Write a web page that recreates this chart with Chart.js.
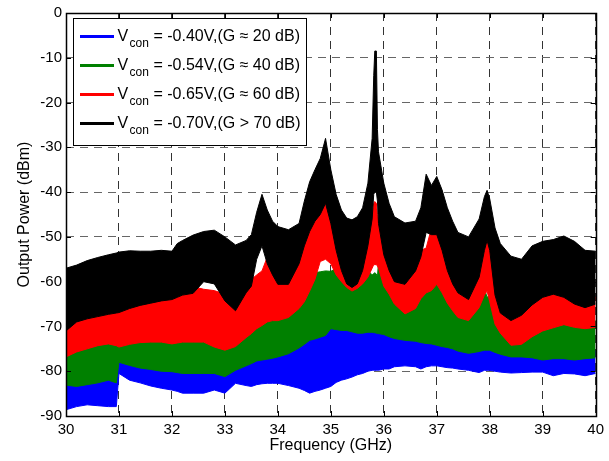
<!DOCTYPE html>
<html lang="en">
<head>
    <meta charset="UTF-8">
    <title>Output Power vs Frequency</title>
    <script src="https://cdn.jsdelivr.net/npm/chart.js"></script>
    <style>
        body {
            margin: 0;
            background: #fff;
        }
        #chart {
            display: block;
        }
    </style>
</head>
<body>
    <canvas id="chart" width="609" height="461"></canvas>

    <script>
        // frequency grid (GHz) the envelopes were read at
        const freqGHz = [
            30.0, 30.2, 30.4, 30.6, 30.8, 30.95, 31.0, 31.2, 31.4, 31.6,
            31.8, 32.0, 32.1, 32.2, 32.4, 32.6, 32.8, 33.0, 33.2, 33.4,
            33.5, 33.6, 33.7, 33.8, 33.9, 34.0, 34.2, 34.4, 34.5, 34.6,
            34.7, 34.8, 34.9, 35.0, 35.1, 35.2, 35.3, 35.4, 35.5, 35.6,
            35.7, 35.78, 35.81, 35.83, 35.86, 35.88, 35.9, 36.0, 36.1, 36.2,
            36.4, 36.6, 36.7, 36.8, 36.9, 37.0, 37.1, 37.2, 37.3, 37.4,
            37.6, 37.8, 37.9, 37.95, 38.0, 38.1, 38.2, 38.4, 38.6, 38.8,
            39.0, 39.2, 39.4, 39.6, 39.8, 40.0
        ];

        // Vcon = -0.70 V (black), upper / lower edge of the noisy trace (dBm)
        const blackTop = [
            -57, -56.3, -55.3, -54.6, -54, -53.6, -53.4, -53.1, -53.2, -53.2,
            -53, -53.2, -51.5, -50.8, -49.6, -48.8, -48.5, -50, -51.8, -50.8,
            -49.5, -44.5, -40.5, -44, -46.5, -47.7, -48.4, -47, -42, -37.7,
            -35, -32.5, -28, -35, -40.5, -44, -45.8, -46.2, -45.5, -43.5,
            -38, -28, -14, -8.5, -8.5, -26, -31, -38, -42.5, -45.5,
            -46.9, -46.5, -43.5, -36, -38.5, -36.5, -39.5, -43.5, -46.5, -49,
            -50, -46, -41, -39.6, -41.5, -48, -51.5, -54.3, -55, -52,
            -51, -50.6, -49.8, -51, -53, -53.2
        ];
        const blackBottom = [
            -71, -69, -68.3, -67.8, -67.3, -67, -66.9, -66, -65.3, -64.8,
            -64.3, -64, -63.5, -63, -62.6, -60, -60.5, -64.3, -66.5, -62.5,
            -61, -55, -52, -56, -58.5, -60.6, -60.6, -56, -52, -48.8,
            -46.5, -45, -42.5, -47, -53, -57.5, -60.5, -61.3, -60.5, -57.5,
            -52, -46, -40.5, -40, -40, -42, -47, -54, -57.5, -60,
            -60.6, -57.6, -54.5, -49, -49.5, -49.5, -53, -57.5, -60.5, -62.5,
            -64, -59, -53, -50.8, -53, -63, -67, -68.7, -67.5, -65.2,
            -63.5, -62.8, -63.5, -65, -65.8, -65
        ];

        // Vcon = -0.65 V (red)
        const redTop = [
            -69.5, -67.5, -66.8, -66.3, -65.8, -65.5, -65.4, -64.5, -63.8, -63.3,
            -62.8, -62.5, -62, -61.5, -61.1, -61.7, -62, -62.8, -65, -61,
            -59.5, -58.5, -57.6, -54.5, -57, -59.1, -59.1, -54.5, -50.5, -47.3,
            -45, -43.5, -41, -45.5, -51.5, -56, -59, -59.8, -59, -56,
            -50.5, -45, -42.5, -42.1, -42.5, -45, -46, -52.5, -56, -58.5,
            -59.1, -56.1, -53, -52.5, -48, -48, -51.5, -56, -59, -61,
            -62.5, -57.5, -51.5, -49.5, -51.5, -61.5, -65.5, -67.2, -66, -63.7,
            -62, -61.3, -62, -63.5, -64.3, -63.5
        ];
        const redBottom = [
            -76.8, -75.7, -75, -74.3, -73.9, -74.3, -74.6, -74, -73.6, -73.5,
            -73.5, -73.9, -73.7, -73.5, -73.5, -73.5, -74.6, -75.3, -74.5, -72.5,
            -71.6, -70.5, -69.8, -69, -68.7, -68.7, -68, -66, -64.5, -62.1,
            -59.5, -55.5, -55, -56, -58.5, -60, -61.3, -62.1, -61.5, -60.5,
            -59, -57, -56.2, -56.2, -56.2, -56.5, -57, -61, -62.8, -65,
            -67.2, -66, -63.8, -62.5, -62, -60.6, -62.5, -64.8, -66.5, -68,
            -68.7, -65.8, -63, -62.1, -64.5, -69.5, -71.5, -74.2, -74, -72.3,
            -71, -70.3, -69.6, -70.2, -70.5, -70.2
        ];

        // Vcon = -0.54 V (green)
        const greenTop = [
            -75.3, -74.2, -73.5, -72.8, -72.4, -72.8, -73.1, -72.5, -72.1, -72,
            -72, -72.4, -72.2, -72, -72, -72, -73.1, -73.8, -73, -71,
            -70.1, -69, -68.3, -67.5, -67.2, -67.2, -66.5, -64.5, -63, -60.6,
            -58, -57.8, -57.6, -57.7, -57, -58.5, -59.8, -60.6, -60, -59,
            -57.5, -58.5, -58.2, -58, -58.3, -59, -55.5, -59.5, -61.3, -63.5,
            -65.7, -64.5, -62.3, -61, -60.5, -59.1, -61, -63.3, -65, -66.5,
            -67.2, -64.3, -61.5, -63.5, -63, -68, -70, -72.7, -72.5, -70.8,
            -69.5, -68.8, -68.1, -68.7, -69, -68.7
        ];
        const greenBottom = [
            -83.1, -83.4, -83, -82.6, -82, -82.6, -78, -78.7, -79.3, -79.6,
            -80, -80.1, -80.3, -80.5, -80.5, -80.5, -80.5, -81.2, -79.8, -78.8,
            -78.3, -77.7, -77.5, -77.3, -77.1, -76.8, -76.1, -74.8, -74, -73.1,
            -72.8, -72.4, -72, -70.5, -70.7, -70.9, -70.9, -71.2, -71.5, -71.5,
            -71.3, -71.3, -71.4, -71.4, -71.5, -71.6, -71.6, -71.8, -72.3, -72.7,
            -73.1, -73.3, -73.6, -73.8, -73.9, -74.2, -74.5, -74.7, -75, -75.5,
            -76, -75.6, -75.3, -75.3, -75.3, -75.8, -76.2, -76.8, -76.8, -77,
            -77.5, -77.2, -77.2, -77.5, -77.2, -77
        ];

        // Vcon = -0.40 V (blue)
        const blueTop = [
            -81.6, -81.9, -81.5, -81.1, -80.5, -81.1, -76.5, -77.2, -77.8, -78.1,
            -78.5, -78.6, -78.8, -79, -79, -79, -79, -79.7, -78.3, -77.3,
            -76.8, -76.2, -76, -75.8, -75.6, -75.3, -74.6, -73.3, -72.5, -71.6,
            -71.3, -70.9, -70.5, -69, -69.2, -69.4, -69.4, -69.7, -70, -70,
            -69.8, -69.8, -69.9, -69.9, -70, -70.1, -70.1, -70.3, -70.8, -71.2,
            -71.6, -71.8, -72.1, -72.3, -72.4, -72.7, -73, -73.2, -73.5, -74,
            -74.5, -74.1, -73.8, -73.8, -73.8, -74.3, -74.7, -75.3, -75.3, -75.5,
            -76, -75.7, -75.7, -76, -75.7, -75.5
        ];
        const blueBottom = [
            -88.6, -87.9, -87.5, -87.7, -87.9, -87.9, -80.5, -82, -82.6, -83.3,
            -83.8, -84.2, -84.5, -84.9, -84.9, -84.9, -84.2, -84.9, -82.7, -83.2,
            -83.4, -83, -82.8, -82.7, -82.7, -82.7, -83.2, -83.8, -84.3, -84.9,
            -84.5, -84.2, -83.8, -83.4, -82.5, -82, -81.7, -81.3, -80.8, -80.5,
            -80, -79.8, -79.8, -79.8, -79.8, -79.8, -79.8, -79.5, -79.5, -79,
            -78.8, -79, -79.5, -79, -78.8, -78.8, -79, -79.2, -79.3, -79.5,
            -79.8, -80.3, -79.8, -79.8, -79.8, -80, -80.2, -80.4, -80.3, -80.2,
            -80.2, -81, -80.5, -80.6, -81, -80.5
        ];

        const seriesColors = ['#000000', '#ff0000', '#008000', '#0000ff'];
        const legendLabels = [
            '= -0.40V,(G \u2248 20 dB)',
            '= -0.54V,(G \u2248 40 dB)',
            '= -0.65V,(G \u2248 60 dB)',
            '= -0.70V,(G > 70 dB)'
        ];
        const legendColors = ['#0000ff', '#008000', '#ff0000', '#000000'];

        const FONT = "'Liberation Sans', Arial, Helvetica, sans-serif";

        function points(values) {
            return freqGHz.map((f, i) => ({ x: f, y: values[i] }));
        }

        function band(top, bottom, color) {
            const common = {
                borderColor: color,
                backgroundColor: color,
                borderWidth: 1,
                pointRadius: 0,
                tension: 0
            };
            return [
                Object.assign({ data: points(top), fill: '+1' }, common),
                Object.assign({ data: points(bottom), fill: false }, common)
            ];
        }

        // first dataset is painted last, so black ends up on top
        const datasets = [].concat(
            band(blackTop, blackBottom, seriesColors[0]),
            band(redTop, redBottom, seriesColors[1]),
            band(greenTop, greenBottom, seriesColors[2]),
            band(blueTop, blueBottom, seriesColors[3])
        );

        // box around the axes with inward ticks, like the original figure
        const framePlugin = {
            id: 'frame',
            afterDatasetsDraw(chart) {
                const { ctx, chartArea: a, scales } = chart;
                ctx.save();
                ctx.strokeStyle = '#000';
                ctx.lineWidth = 1;
                ctx.beginPath();
                scales.x.ticks.forEach(t => {
                    const px = Math.round(scales.x.getPixelForValue(t.value)) + 0.5;
                    ctx.moveTo(px, a.bottom); ctx.lineTo(px, a.bottom - 5);
                    ctx.moveTo(px, a.top); ctx.lineTo(px, a.top + 5);
                });
                scales.y.ticks.forEach(t => {
                    const py = Math.round(scales.y.getPixelForValue(t.value)) + 0.5;
                    ctx.moveTo(a.left, py); ctx.lineTo(a.left + 5, py);
                    ctx.moveTo(a.right, py); ctx.lineTo(a.right - 5, py);
                });
                ctx.stroke();
                ctx.lineWidth = 1.5;
                ctx.strokeRect(Math.round(a.left) + 0.5, Math.round(a.top) + 0.5,
                    Math.round(a.right - a.left), Math.round(a.bottom - a.top));
                ctx.restore();
            }
        };

        // legend with the "con" subscript
        const legendPlugin = {
            id: 'subLegend',
            afterDraw(chart) {
                const { ctx, chartArea: a } = chart;
                const x0 = a.left + 7, y0 = a.top + 5;
                ctx.save();
                ctx.fillStyle = '#fff';
                ctx.fillRect(x0, y0, 233, 127);
                ctx.strokeStyle = '#000';
                ctx.lineWidth = 1;
                ctx.strokeRect(x0 + 0.5, y0 + 0.5, 233, 127);
                legendLabels.forEach((txt, i) => {
                    const base = y0 + 23 + i * 29;
                    ctx.strokeStyle = legendColors[i];
                    ctx.lineWidth = 3;
                    ctx.beginPath();
                    ctx.moveTo(x0 + 7, base - 4.5);
                    ctx.lineTo(x0 + 41, base - 4.5);
                    ctx.stroke();
                    ctx.fillStyle = '#000';
                    ctx.textBaseline = 'alphabetic';
                    ctx.font = '16px ' + FONT;
                    ctx.fillText('V', x0 + 44.5, base);
                    ctx.font = '12px ' + FONT;
                    ctx.fillText('con', x0 + 56.5, base + 6);
                    ctx.font = '16px ' + FONT;
                    ctx.fillText(txt, x0 + 80.5, base);
                });
                ctx.restore();
            }
        };

        new Chart(document.getElementById('chart'), {
            type: 'line',
            data: { datasets: datasets },
            options: {
                responsive: false,
                animation: false,
                layout: { padding: { top: 10, right: 13, left: 0, bottom: 0 } },
                plugins: {
                    legend: { display: false },
                    tooltip: { enabled: false }
                },
                scales: {
                    x: {
                        type: 'linear',
                        min: 30,
                        max: 40,
                        afterFit: s => { s.height = 45; },
                        ticks: {
                            stepSize: 1,
                            padding: 5,
                            color: '#000',
                            font: { family: FONT, size: 15 }
                        },
                        grid: { color: '#333', drawTicks: false },
                        border: { display: false, dash: [8, 6] },
                        title: {
                            display: true,
                            text: 'Frequency (GHz)',
                            color: '#000',
                            font: { family: FONT, size: 16 },
                            padding: { top: 0, bottom: 6 }
                        }
                    },
                    y: {
                        min: -90,
                        max: 0,
                        afterFit: s => { s.width = 66; },
                        ticks: {
                            stepSize: 10,
                            padding: 4,
                            color: '#000',
                            font: { family: FONT, size: 15 }
                        },
                        grid: { color: '#666', drawTicks: false },
                        border: { display: false, dash: [8, 6] },
                        title: {
                            display: true,
                            text: 'Output Power (dBm)',
                            color: '#000',
                            font: { family: FONT, size: 16 },
                            padding: { top: 15, bottom: 0 }
                        }
                    }
                }
            },
            plugins: [framePlugin, legendPlugin]
        });
    </script>
</body>
</html>
